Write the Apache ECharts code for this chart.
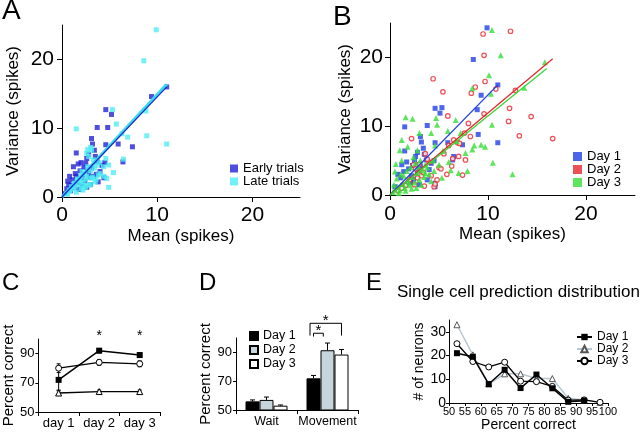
<!DOCTYPE html>
<html><head><meta charset="utf-8">
<script src="https://cdn.jsdelivr.net/npm/echarts@6/dist/echarts.min.js"></script>
<style>html,body{margin:0;padding:0;background:#fff}#c{width:640px;height:435px}</style>
</head><body><div id="c"></div><script>
// ---------- DATA ----------
const scatterTicks = [0, 10, 20];
const aEarly = [[11,16],[9.4,14.6],[4.6,12.7],[5.2,12.0],[3.7,10.1],[4.8,10.1],[5.9,7.7],[7.4,7.3],[4.6,7.6],[3.1,8.5],[3.2,7.7],[1.5,6.4],[6.4,5.1],[2.6,5.6],[3.5,5.9],[2.5,4.9],[1.7,4.8],[1.2,4.4],[3.7,5.1],[4.5,5.0],[3.1,4.2],[1.4,3.4],[0.8,3.0],[0.7,1.8],[2.8,3.5],[4.0,3.7],[3.8,2.2],[2.1,1.8],[1.1,2.5],[0.5,1.2],[0.9,0.9],[1.3,1.4],[1.8,1.1],[2.4,2.3],[2.9,2.9],[3.3,3.0],[2.2,2.8],[1.6,2.1],[0.3,0.5],[1.9,3.8],[2.3,4.3],[3.4,6.8],[2.8,6.2],[4.2,4.6],[1.0,1.7],[2.6,1.4],[3.0,1.8],[0.6,2.3],[1.5,3.0],[2.0,5.0],[4.4,2.8],[3.6,3.3]];
const aLate = [[9.9,24.3],[8.6,19.8],[8.8,12.5],[5.3,12.7],[1.5,9.9],[5.7,10.6],[6.9,8.7],[8.9,8.9],[11.0,7.7],[6.3,9.2],[6.45,5.5],[3.1,6.8],[2.6,6.35],[2.8,5.9],[3.3,5.4],[4.9,4.65],[4.35,4.4],[5.4,3.55],[4.7,2.7],[4.9,1.4],[3.1,2.7],[2.1,3.7],[2.6,3.0],[1.7,2.5],[2.8,1.75],[3.5,2.2],[3.8,3.2],[1.4,1.5],[0.84,1.0],[2.2,1.0],[0.5,0.5],[3.0,7.2],[2.7,6.9],[1.0,1.5],[1.3,2.0],[1.8,1.8],[2.2,2.2],[2.5,2.6],[2.0,3.0],[2.4,3.4],[3.0,3.8],[3.4,4.2],[3.6,4.6],[2.7,4.4],[1.6,2.6],[1.2,1.2],[0.8,0.9],[0.6,0.4],[1.5,0.7],[2.0,1.2],[2.5,1.4],[3.0,1.8],[3.6,2.6],[4.0,3.4],[4.4,3.0],[3.2,2.9],[2.3,1.7],[1.9,2.4],[4.6,5.6],[3.9,5.0]];
const aFitEarly = [[0,0],[11,16]];
const aFitLate = [[0,0],[11,16.4]];

const bDay1 = [[9.9,24.3],[8.5,19.7],[11.0,16.0],[9.3,14.5],[4.6,12.6],[5.3,12.7],[5.1,11.9],[8.9,12.4],[1.5,9.9],[3.8,10.1],[9.0,8.8],[11.0,7.6],[6.5,5.6],[3.1,8.5],[3.2,7.7],[4.6,7.6],[5.9,7.6],[7.4,7.3],[6.4,5.1],[1.5,6.4],[2.6,5.6],[3.5,5.9],[2.5,4.9],[1.7,4.8],[1.2,4.4],[3.7,5.1],[4.5,5.0],[3.1,4.2],[1.4,3.4],[0.8,3.0],[2.8,3.5],[4.0,3.7],[3.8,2.2],[2.1,1.8],[1.1,2.5],[0.5,1.2],[1.3,1.4],[2.4,2.3],[2.9,2.9],[2.2,2.8],[1.9,3.8],[2.3,4.3],[3.4,6.8],[2.8,6.2],[4.2,4.6],[4.6,1.2],[4.6,1.7],[3.0,1.5]];
const bDay2 = [[9.5,23.4],[12.3,23.8],[9.6,20.3],[4.4,16.9],[5.4,15.0],[9.7,16.5],[10.8,15.4],[12.8,15.2],[8.7,15.7],[8.3,14.8],[12.2,12.6],[14.4,11.4],[12.1,10.7],[9.6,11.8],[13.2,8.6],[16.6,8.2],[5.9,11.5],[2.2,8.2],[8.0,10.4],[7.7,5.1],[7.4,2.9],[6.4,5.3],[3.0,3.0],[3.2,2.8],[2.8,2.5],[3.4,3.3],[4.5,1.2],[4.6,1.6],[3.5,1.3],[2.5,1.5],[5.5,6.0],[6.0,7.2],[6.9,7.6],[7.1,7.5],[7.6,9.0],[8.2,8.5],[7.0,5.6],[6.5,8.0],[4.0,4.8],[5.0,4.0],[4.8,2.2],[5.2,3.8],[3.8,5.2],[3.0,4.5],[2.6,3.8],[2.0,2.2],[1.6,1.4],[1.2,1.0],[0.8,0.6],[2.4,4.4],[3.6,6.0],[5.8,3.0],[6.3,4.2],[4.2,2.8]];
const bDay3 = [[10.4,24.0],[11.3,20.3],[15.8,19.3],[10.1,17.4],[8.4,15.5],[10.3,14.7],[13.7,15.6],[10.4,10.2],[9.7,7.0],[10.5,4.7],[12.5,3.0],[1.6,11.3],[2.3,11.1],[4.7,11.2],[4.8,10.2],[6.7,10.9],[8.4,6.6],[7.7,6.1],[7.9,3.5],[6.2,3.6],[8.6,7.2],[9.3,7.3],[7.2,9.0],[5.9,9.3],[6.8,7.8],[4.2,9.0],[3.0,9.0],[1.2,8.0],[1.0,6.5],[1.8,7.0],[0.6,4.5],[2.8,6.5],[4.6,7.2],[5.4,6.4],[3.6,4.4],[6.0,4.8],[7.0,3.2],[0.3,0.4],[0.5,0.8],[0.8,1.2],[1.0,0.7],[1.3,1.6],[1.5,1.0],[1.8,2.2],[2.0,1.4],[2.3,2.6],[2.5,1.8],[2.8,3.2],[3.0,2.2],[3.3,3.6],[3.5,2.6],[3.8,4.0],[4.0,3.0],[0.4,1.5],[0.7,2.4],[1.1,3.0],[1.4,2.8],[1.7,3.5],[2.1,4.0],[2.6,4.6],[3.1,5.0],[0.9,0.3],[1.6,0.6],[2.2,0.9],[2.7,1.0],[3.2,1.5],[4.2,2.0],[4.5,3.5],[5.0,4.4],[5.3,2.5],[1.2,5.0],[0.5,3.4],[2.4,5.5],[1.9,1.8],[2.9,4.1],[3.6,3.2],[4.4,5.0]];
const bFitDay1 = [[0,0],[11,16]];
const bFitDay2 = [[0,0],[16.6,19.8]];
const bFitDay3 = [[0,0],[16,18.4]];

const cCategories = ['day 1','day 2','day 3'];
const cFilled = [72, 92, 89];
const cFilledErr = [7, 1.5, 1.5];
const cOpen = [80, 84, 83];
const cOpenErr = [3, 2, 2];
const cTri = [63, 64, 64];
const cTriErr = [1.5, 1, 1];
const cStars = ['', '*', '*'];
const pctTicks = [50, 70, 90];

const dCategories = ['Wait','Movement'];
const dDay1 = [56, 72];
const dDay2 = [57, 91.5];
const dDay3 = [53, 88.5];
const dErr1 = [1, 2];
const dErr2 = [2, 5];
const dErr3 = [0.5, 3.5];
// [category, from bar, to bar, leg bottom, bracket top, star level]
const dBrackets = [[1, 0, 0.7, 101, 103.3, 107.5], [1, -0.25, 2, 101.7, 110.2, 114.5]];

const eBins = [52.5,57.5,62.5,67.5,72.5,77.5,82.5,87.5,92.5,97.5];
const eDay1 = [21,19.5,8,14,6.3,12,6.2,0.5,1];
const eDay2 = [33,20.3,8,12.3,12.3,10.3,10.3,2,1.3,0.3];
const eDay3 = [25,17.5,15.2,17.2,9.2,9,7,1.2,1.3,0.3];
const eYTicks = [0,10,20,30];

// ---------- STYLE ----------
const SANS = "'Liberation Sans',Arial,Helvetica,sans-serif";
const BLK = '#000';
const BAR_W = 14;

function ax(o) {
  const base = {
    axisLine: {show: true, onZero: false, lineStyle: {color: BLK, width: 1}},
    axisTick: {show: true, length: 4, lineStyle: {color: BLK, width: 1}},
    axisLabel: {color: BLK, fontFamily: SANS, hideOverlap: false},
    splitLine: {show: false},
    nameLocation: 'middle',
    nameTextStyle: {color: BLK, fontFamily: SANS}
  };
  const r = Object.assign({}, base, o);
  r.axisLine = Object.assign({}, base.axisLine, o.axisLine || {});
  r.axisTick = Object.assign({}, base.axisTick, o.axisTick || {});
  r.axisLabel = Object.assign({}, base.axisLabel, o.axisLabel || {});
  r.nameTextStyle = Object.assign({}, base.nameTextStyle, o.nameTextStyle || {});
  return r;
}
const zip = (xs, ys) => ys.map((y, i) => [xs[i], y]);
const withErr = (vals, errs) => vals.map((v, i) => [i, v, errs[i]]);

function errRender(offsetIdx, capHalf, upOnly) {
  return function (params, api) {
    const c = api.value(0), v = api.value(1), e = api.value(2);
    const top = api.coord([c, v + e]);
    const bot = api.coord([c, upOnly ? v : v - e]);
    const x = top[0] + offsetIdx * BAR_W;
    const st = {stroke: BLK, lineWidth: 1};
    const ch = [{type: 'line', shape: {x1: x, y1: top[1], x2: x, y2: bot[1]}, style: st},
                {type: 'line', shape: {x1: x - capHalf, y1: top[1], x2: x + capHalf, y2: top[1]}, style: st}];
    if (!upOnly) ch.push({type: 'line', shape: {x1: x - capHalf, y1: bot[1], x2: x + capHalf, y2: bot[1]}, style: st});
    return {type: 'group', children: ch};
  };
}

const option = {
  backgroundColor: '#fff',
  animation: false,
  textStyle: {fontFamily: SANS, color: BLK},
  title: [
    {text: 'A', left: 2, top: -3, padding: 0, textStyle: {fontSize: 28, fontWeight: 'normal', color: BLK}},
    {text: 'B', left: 333, top: 3, padding: 0, textStyle: {fontSize: 28, fontWeight: 'normal', color: BLK}},
    {text: 'C', left: 2, top: 271, padding: 0, textStyle: {fontSize: 24, fontWeight: 'normal', color: BLK}},
    {text: 'D', left: 199, top: 271, padding: 0, textStyle: {fontSize: 24, fontWeight: 'normal', color: BLK}},
    {text: 'E', left: 366, top: 271, padding: 0, textStyle: {fontSize: 24, fontWeight: 'normal', color: BLK}},
    {text: 'Single cell prediction distribution', left: 397, top: 284, padding: 0, textStyle: {fontSize: 17, fontWeight: 'normal', color: BLK}}
  ],
  legend: [
    {data: [{name: 'Early trials', icon: 'rect'}, {name: 'Late trials', icon: 'rect'}],
     left: 230, top: 162, orient: 'vertical', itemWidth: 8, itemHeight: 8, itemGap: 0, padding: 0, selectedMode: false,
     textStyle: {fontSize: 13, color: BLK, lineHeight: 12}},
    {data: [{name: 'Day 1', icon: 'rect'}, {name: 'Day 2', icon: 'rect', itemStyle: {color: '#e8262c', borderWidth: 0}}, {name: 'Day 3', icon: 'rect'}],
     left: 573, top: 150, orient: 'vertical', itemWidth: 9, itemHeight: 9, itemGap: 0, padding: 0, selectedMode: false,
     textStyle: {fontSize: 13, color: BLK, lineHeight: 12}},
    {data: [{name: 'Day 1 (D)', icon: 'rect'}, {name: 'Day 2 (D)', icon: 'rect'}, {name: 'Day 3 (D)', icon: 'rect'}], formatter: n => n.replace(' (D)', ''),
     left: 249, top: 329, orient: 'vertical', itemWidth: 8, itemHeight: 8, itemGap: 0, padding: 0, selectedMode: false,
     textStyle: {fontSize: 12.5, color: BLK, lineHeight: 14}},
    {data: ['Day 1 (E)', 'Day 2 (E)', 'Day 3 (E)'], formatter: n => n.replace(' (E)', ''),
     left: 576, top: 331, orient: 'vertical', itemWidth: 15, itemHeight: 8, itemGap: 0, padding: 0, selectedMode: false,
     textStyle: {fontSize: 12, color: BLK, lineHeight: 11.5}}
  ],
  grid: [
    {left: 62, top: 25, width: 238, height: 172},
    {left: 390, top: 23, width: 245, height: 172},
    {left: 33, top: 339, width: 127, height: 73},
    {left: 236, top: 338, width: 122, height: 72},
    {left: 449, top: 320, width: 159, height: 83}
  ],
  xAxis: [
    ax({type: 'value', gridIndex: 0, min: 0, max: 25, axisTick: {length: 5, customValues: scatterTicks}, axisLabel: {customValues: scatterTicks, fontSize: 21, margin: 8},
        name: 'Mean (spikes)', nameGap: 31, nameTextStyle: {fontSize: 17}}),
    ax({type: 'value', gridIndex: 1, min: 0, max: 25, axisTick: {length: 5, customValues: scatterTicks}, axisLabel: {customValues: scatterTicks, fontSize: 21, margin: 9},
        name: 'Mean (spikes)', nameGap: 31, nameTextStyle: {fontSize: 17}}),
    ax({type: 'category', gridIndex: 2, data: cCategories, axisLabel: {fontSize: 13, margin: 5, interval: 0}}),
    ax({type: 'category', gridIndex: 3, data: dCategories, axisLabel: {fontSize: 12.5, margin: 5, interval: 0}}),
    ax({type: 'value', gridIndex: 4, min: 50, max: 100, interval: 5, axisTick: {length: 3}, axisLabel: {fontSize: 11, margin: 3, showMaxLabel: true, showMinLabel: true},
        name: 'Percent correct', nameGap: 15, nameTextStyle: {fontSize: 14}})
  ],
  yAxis: [
    ax({type: 'value', gridIndex: 0, min: 0, max: 25, axisTick: {length: 5, customValues: scatterTicks}, axisLabel: {customValues: scatterTicks, fontSize: 21, margin: 8},
        name: 'Variance (spikes)', nameGap: 40, nameTextStyle: {fontSize: 17}}),
    ax({type: 'value', gridIndex: 1, min: 0, max: 25, axisTick: {length: 5, customValues: scatterTicks}, axisLabel: {customValues: scatterTicks, fontSize: 21, margin: 7},
        name: 'Variance (spikes)', nameGap: 36, nameTextStyle: {fontSize: 17}}),
    ax({type: 'value', gridIndex: 2, min: 50, max: 100, axisTick: {length: 3, customValues: pctTicks}, axisLabel: {customValues: pctTicks, fontSize: 13, margin: 4},
        name: 'Percent correct', nameGap: 20, nameTextStyle: {fontSize: 15}}),
    ax({type: 'value', gridIndex: 3, min: 50, max: 100, axisTick: {length: 3, customValues: pctTicks}, axisLabel: {customValues: pctTicks, fontSize: 13, margin: 4},
        name: 'Percent correct', nameGap: 22, nameTextStyle: {fontSize: 15}}),
    ax({type: 'value', gridIndex: 4, min: 0, max: 35, axisTick: {length: 3, customValues: eYTicks}, axisLabel: {customValues: eYTicks, fontSize: 14, margin: 3},
        name: '# of neurons', nameGap: 20, nameTextStyle: {fontSize: 14}})
  ],
  series: [
    // A
    {type: 'scatter', name: 'Early trials', xAxisIndex: 0, yAxisIndex: 0, data: aEarly, symbol: 'rect', symbolSize: 5, itemStyle: {color: '#2323d4'}},
    {type: 'scatter', name: 'Late trials', xAxisIndex: 0, yAxisIndex: 0, data: aLate, symbol: 'rect', symbolSize: 5, itemStyle: {color: '#4deef2'}},
    {type: 'line', xAxisIndex: 0, yAxisIndex: 0, data: aFitLate, symbol: 'none', lineStyle: {color: '#38d8f0', width: 3}, z: 3},
    {type: 'line', xAxisIndex: 0, yAxisIndex: 0, data: aFitEarly, symbol: 'none', lineStyle: {color: '#1c2cc8', width: 1.3}, z: 4},
    // B
    {type: 'scatter', name: 'Day 1', xAxisIndex: 1, yAxisIndex: 1, data: bDay1, symbol: 'rect', symbolSize: 5, itemStyle: {color: '#1f3fe6'}},
    {type: 'scatter', name: 'Day 2', xAxisIndex: 1, yAxisIndex: 1, data: bDay2, symbol: 'circle', symbolSize: 4.5, itemStyle: {color: '#fff6f6', borderColor: '#e8262c', borderWidth: 1.2}},
    {type: 'scatter', name: 'Day 3', xAxisIndex: 1, yAxisIndex: 1, data: bDay3, symbol: 'triangle', symbolSize: 6, itemStyle: {color: '#35e035'}},
    {type: 'line', xAxisIndex: 1, yAxisIndex: 1, data: bFitDay1, symbol: 'none', lineStyle: {color: '#1f3fe6', width: 1.3}, z: 4},
    {type: 'line', xAxisIndex: 1, yAxisIndex: 1, data: bFitDay2, symbol: 'none', lineStyle: {color: '#e8262c', width: 1.3}, z: 4},
    {type: 'line', xAxisIndex: 1, yAxisIndex: 1, data: bFitDay3, symbol: 'none', lineStyle: {color: '#35d835', width: 1.3}, z: 4},
    // C
    {type: 'custom', xAxisIndex: 2, yAxisIndex: 2, data: withErr(cFilled, cFilledErr), renderItem: errRender(0, 2, false), z: 2},
    {type: 'custom', xAxisIndex: 2, yAxisIndex: 2, data: withErr(cOpen, cOpenErr), renderItem: errRender(0, 2, false), z: 2},
    {type: 'custom', xAxisIndex: 2, yAxisIndex: 2, data: withErr(cTri, cTriErr), renderItem: errRender(0, 2, false), z: 2},
    {type: 'line', xAxisIndex: 2, yAxisIndex: 2, data: cTri, symbol: 'triangle', symbolSize: 6, lineStyle: {color: BLK, width: 1.3}, itemStyle: {color: '#fff', borderColor: BLK, borderWidth: 1}, z: 3},
    {type: 'line', xAxisIndex: 2, yAxisIndex: 2, data: cOpen, symbol: 'circle', symbolSize: 6, lineStyle: {color: BLK, width: 1.3}, itemStyle: {color: '#fff', borderColor: BLK, borderWidth: 1}, z: 3},
    {type: 'line', xAxisIndex: 2, yAxisIndex: 2, data: cFilled, symbol: 'rect', symbolSize: 6, lineStyle: {color: BLK, width: 1.5}, itemStyle: {color: BLK}, z: 3},
    {type: 'custom', xAxisIndex: 2, yAxisIndex: 2, data: cStars.map((s, i) => [i, 104.5, s]),
     renderItem: function (params, api) {
       const p = api.coord([api.value(0), api.value(1)]);
       return {type: 'text', x: p[0], y: p[1] + 4, style: {text: cStars[params.dataIndex], fontSize: 14, fontFamily: SANS, fill: BLK, align: 'center', verticalAlign: 'middle'}};
     }},
    // D
    {type: 'bar', name: 'Day 1 (D)', xAxisIndex: 3, yAxisIndex: 3, data: dDay1, barWidth: BAR_W, barGap: '0%', itemStyle: {color: BLK, borderColor: BLK, borderWidth: 1}},
    {type: 'bar', name: 'Day 2 (D)', xAxisIndex: 3, yAxisIndex: 3, data: dDay2, barWidth: BAR_W, barGap: '0%', itemStyle: {color: '#c6d4dc', borderColor: BLK, borderWidth: 1}},
    {type: 'bar', name: 'Day 3 (D)', xAxisIndex: 3, yAxisIndex: 3, data: dDay3, barWidth: BAR_W, barGap: '0%', itemStyle: {color: '#fff', borderColor: BLK, borderWidth: 1}},
    {type: 'custom', xAxisIndex: 3, yAxisIndex: 3, data: withErr(dDay1, dErr1), renderItem: errRender(-1, 2.5, true), z: 3},
    {type: 'custom', xAxisIndex: 3, yAxisIndex: 3, data: withErr(dDay2, dErr2), renderItem: errRender(0, 2.5, true), z: 3},
    {type: 'custom', xAxisIndex: 3, yAxisIndex: 3, data: withErr(dDay3, dErr3), renderItem: errRender(1, 2.5, true), z: 3},
    {type: 'custom', xAxisIndex: 3, yAxisIndex: 3, data: dBrackets, z: 3,
     renderItem: function (params, api) {
       const c = api.value(0), f = api.value(1), t = api.value(2);
       const base = api.coord([c, api.value(4)]);
       const bot = api.coord([c, api.value(3)]);
       const star = api.coord([c, api.value(5)]);
       const x0 = base[0] + (f - 1) * BAR_W, x1 = base[0] + (t - 1) * BAR_W;
       return {type: 'group', children: [
         {type: 'polyline', shape: {points: [[x0, bot[1]], [x0, base[1]], [x1, base[1]], [x1, bot[1]]]}, style: {stroke: BLK, lineWidth: 1, fill: null}},
         {type: 'text', x: (x0 + x1) / 2, y: star[1] + 4, style: {text: '*', fontSize: 15, fontFamily: SANS, fill: BLK, align: 'center', verticalAlign: 'middle'}}
       ]};
     }},
    // E
    {type: 'line', name: 'Day 2 (E)', xAxisIndex: 4, yAxisIndex: 4, data: zip(eBins, eDay2), symbol: 'triangle', symbolSize: 6,
     lineStyle: {color: '#b6c8d2', width: 1.5}, itemStyle: {color: '#fff', borderColor: '#555', borderWidth: 1}, z: 2},
    {type: 'line', name: 'Day 3 (E)', xAxisIndex: 4, yAxisIndex: 4, data: zip(eBins, eDay3), symbol: 'circle', symbolSize: 6,
     lineStyle: {color: BLK, width: 1.3}, itemStyle: {color: '#fff', borderColor: BLK, borderWidth: 1}, z: 3},
    {type: 'line', name: 'Day 1 (E)', xAxisIndex: 4, yAxisIndex: 4, data: zip(eBins, eDay1), symbol: 'rect', symbolSize: 6,
     lineStyle: {color: BLK, width: 1.5}, itemStyle: {color: BLK}, z: 4}
  ]
};
const chart = echarts.init(document.getElementById('c'), null, {renderer: 'canvas'});
chart.setOption(option);
</script></body></html>
